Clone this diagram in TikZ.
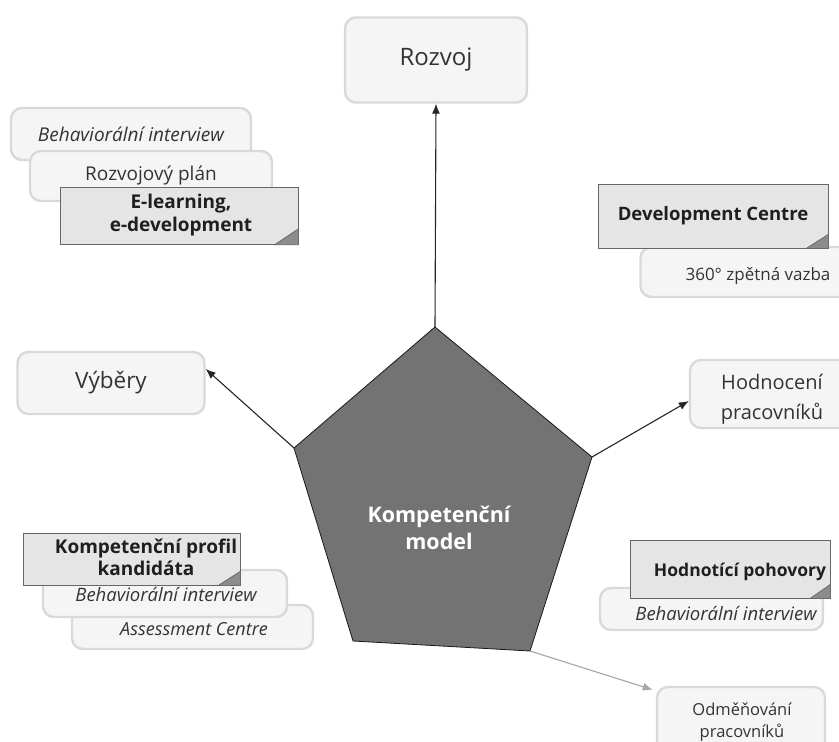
\documentclass[tikz,border=0pt]{standalone}
\usepackage{fontspec}
\setmainfont{Open Sans}
\usetikzlibrary{arrows.meta,calc}

\tikzset{
  softbox/.style={draw=black!15, line width=2.4pt, fill=black!4,
    rounded corners=11pt, inner sep=0pt, align=center, text=black!80},
  flagbox/.style={draw=black!60, line width=0.7pt, fill=black!10,
    inner sep=0pt, align=center, text=black!88},
  fold/.style={fill=black!45, draw=black!60, line width=0.7pt},
  labeltext/.style={inner sep=0pt, align=center, text=black!80},
  arr/.style={-{Latex[length=10pt,width=8pt]}, line width=1.1pt, draw=black!85},
  lightarr/.style={-{Latex[length=10pt,width=8pt]}, line width=1.1pt, draw=black!35},
  pent/.style={fill=black!55, draw=black!90, line width=0.8pt, line join=miter},
}

\begin{document}
\begin{tikzpicture}[x=1pt, y=-1pt]
  \clip (0,0) rectangle (839,742);
  \fill[white] (0,0) rectangle (839,742);

  % the competence model in the middle
  \coordinate (pT)  at (435,327);
  \coordinate (pR)  at (592,457);
  \coordinate (pBR) at (530,651);
  \coordinate (pBL) at (353,641);
  \coordinate (pL)  at (294,448);
  \path[pent] (pT) -- (pR) -- (pBR) -- (pBL) -- (pL) -- cycle;
  \node (core) [inner sep=0pt, align=center, text=white,
    font=\fontsize{21.5}{27}\selectfont\bfseries] at (439,528)
    {Kompetenční\\model};

  % main targets
  \node (rozvoj) [softbox, minimum width=182pt, minimum height=85pt,
    font=\fontsize{24}{28}\selectfont] at (436,60) {Rozvoj};
  \node (vybery) [softbox, minimum width=187pt, minimum height=62pt,
    font=\fontsize{22.5}{26}\selectfont] at (111,383) {Výběry};
  \node (hodn) [softbox, minimum width=160pt, minimum height=68pt] at (770,394) {};
  \node (hodnt) [labeltext, font=\fontsize{20}{30}\selectfont] at (772,399)
    {Hodnocení\\pracovníků};
  \node (odm) [softbox, minimum width=168pt, minimum height=74pt] at (741,724) {};
  \node (odmt) [labeltext, font=\fontsize{16.5}{22}\selectfont] at (742,722)
    {Odměňování\\pracovníků};

  % development tools (upper left)
  \node (lt1) [softbox, minimum width=240pt, minimum height=52pt,
    font=\fontsize{19}{22}\selectfont\itshape] at (131,134) {Behaviorální interview};
  \node (lt2) [softbox, minimum width=242pt, minimum height=50pt,
    font=\fontsize{19}{22}\selectfont] at (151,176) {Rozvojový plán};
  \node (lt3) [flagbox, minimum width=238pt, minimum height=57pt] at (179,216) {};
  \fill[fold] ($(lt3.south east)+(0pt,16pt)$) -- ($(lt3.south east)+(-24pt,0pt)$)
    -- (lt3.south east) -- cycle;
  \node (lt3t) [labeltext, text=black!88, font=\fontsize{19}{23}\selectfont\bfseries]
    at (181,215) {E-learning,\\e-development};

  % development centre (upper right)
  \node (rt2) [softbox, minimum width=215pt, minimum height=50pt] at (748,272) {};
  \node (rt2t) [labeltext, font=\fontsize{17}{20}\selectfont] at (758,276)
    {360° zpětná vazba};
  \node (rt1) [flagbox, minimum width=230pt, minimum height=64pt,
    font=\fontsize{18.5}{22}\selectfont\bfseries] at (713,216) {Development Centre};
  \fill[fold] ($(rt1.south east)+(0pt,14pt)$) -- ($(rt1.south east)+(-22pt,0pt)$)
    -- (rt1.south east) -- cycle;

  % selection tools (lower left)
  \node (lb3) [softbox, minimum width=241pt, minimum height=44pt] at (192.5,627) {};
  \node (lb3t) [labeltext, font=\fontsize{18}{22}\selectfont\itshape] at (194,629)
    {Assessment Centre};
  \node (lb2) [softbox, minimum width=244pt, minimum height=47pt] at (165,593.5) {};
  \node (lb2t) [labeltext, font=\fontsize{18.5}{22}\selectfont\itshape] at (166,594)
    {Behaviorální interview};
  \node (lb1) [flagbox, minimum width=217pt, minimum height=52pt] at (131.5,559) {};
  \fill[fold] ($(lb1.south east)+(0pt,14pt)$) -- ($(lb1.south east)+(-22pt,0pt)$)
    -- (lb1.south east) -- cycle;
  \node (lb1t) [labeltext, text=black!88, font=\fontsize{19}{22}\selectfont\bfseries]
    at (146,557) {Kompetenční profil\\kandidáta};

  % appraisal tools (lower right)
  \node (rb2) [softbox, minimum width=223pt, minimum height=42pt] at (711.5,609) {};
  \node (rb2t) [labeltext, font=\fontsize{18.5}{22}\selectfont\itshape] at (726,613)
    {Behaviorální interview};
  \node (rb1) [flagbox, minimum width=200pt, minimum height=58pt] at (730,569) {};
  \fill[fold] ($(rb1.south east)+(0pt,14pt)$) -- ($(rb1.south east)+(-20pt,0pt)$)
    -- (rb1.south east) -- cycle;
  \node (rb1t) [labeltext, text=black!88, font=\fontsize{17.5}{22}\selectfont\bfseries]
    at (740,572) {Hodnotící pohovory};

  % connectors from the model
  \draw[arr] (pT) -- (rozvoj.south);
  \draw[arr] (pL) -- ([yshift=14pt]vybery.east);
  \draw[arr] (pR) -- ([yshift=-7pt]hodn.west);
  \draw[lightarr] (pBR) -- ([xshift=-3pt,yshift=-4pt]odm.north west);
\end{tikzpicture}
\end{document}
